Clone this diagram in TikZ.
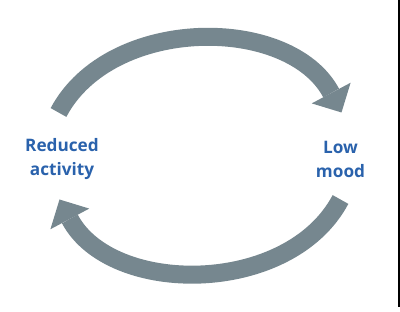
\documentclass[tikz,border=0pt]{standalone}
\usepackage{fontspec}
\setmainfont{Open Sans}
\usetikzlibrary{arrows.meta}
\definecolor{Slate}{HTML}{76878F}
\definecolor{Navy}{HTML}{2A62AC}
\tikzset{label/.style={text=Navy,font=\fontsize{17.2}{24}\selectfont\bfseries,align=center,inner sep=0pt},
  cycle/.style={line width=18pt,draw=Slate,-{Triangle[length=22pt,width=44pt,line width=0pt]}}}

\begin{document}
\begin{tikzpicture}[x=1pt,y=1pt]
  \useasboundingbox (0,0) rectangle (400,312);
  \node[label] (act) at (62,153) {Reduced\\activity};
  \node[label] (mood) at (340.5,153) {Low\\mood};
  \coordinate (topTail) at (58.5,199.5);
  \coordinate (topTip) at (341.5,199.5);
  \coordinate (botTail) at (340.5,112.5);
  \coordinate (botTip) at (59.5,112.5);
  \draw[cycle] (topTail) to[out=62,in=118] (topTip);
  \draw[cycle] (botTail) to[out=-118,in=-62] (botTip);
  % frame edge on the right
  \draw[line width=1.3pt] (399,312) -- (399,5);
\end{tikzpicture}
\end{document}
